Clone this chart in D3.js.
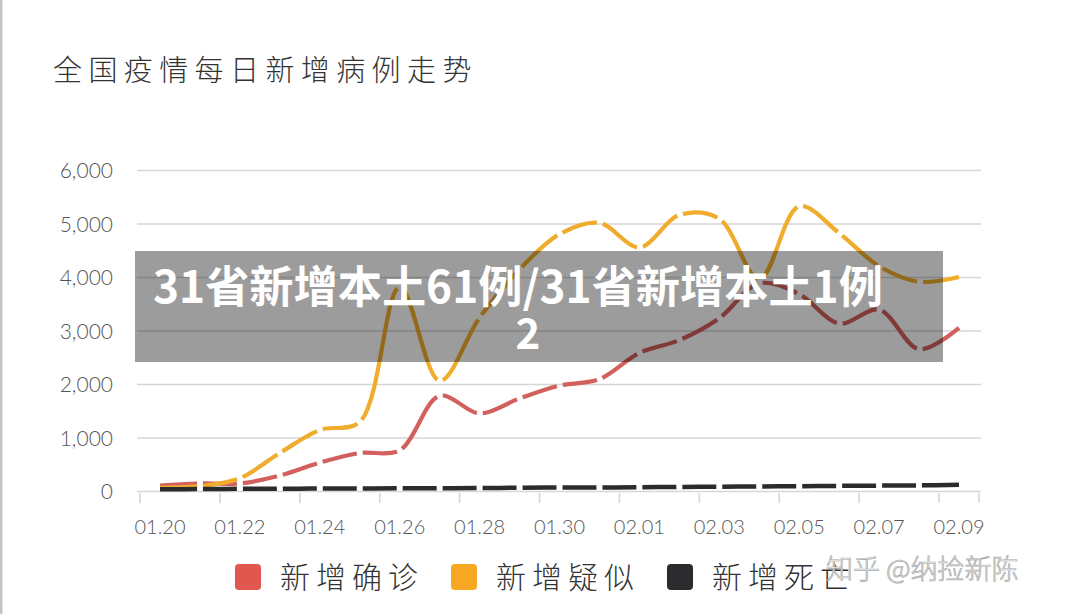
<!DOCTYPE html>
<html>
<head>
<meta charset="utf-8">
<script src="https://cdn.jsdelivr.net/npm/d3@7"></script>
<style>
  body { margin: 0; background: #fff; }
  svg { display: block; }
</style>
</head>
<body>
<div id="chart"></div>
<script>
// values (01.20 - 02.09)
const dates = ['01.20', '01.21', '01.22', '01.23', '01.24', '01.25', '01.26', '01.27', '01.28', '01.29', '01.30',
    '01.31', '02.01', '02.02', '02.03', '02.04', '02.05', '02.06', '02.07', '02.08', '02.09'];
const confirmed = [110, 150, 150, 300, 540, 720, 770, 1790, 1460, 1740, 1980, 2100, 2590, 2830, 3240, 3890, 3690, 3140, 3400, 2660, 3060];
const suspected = [70, 100, 250, 720, 1150, 1300, 3820, 2070, 3250, 4150, 4810, 5020, 4560, 5170, 5100, 3970, 5330, 4830, 4210, 3920, 4010];
const deaths = [40, 45, 50, 50, 55, 55, 60, 60, 65, 70, 75, 75, 80, 85, 90, 95, 100, 105, 110, 115, 125];
const yTicks = [0, 1000, 2000, 3000, 4000, 5000, 6000];
const seriesNames = ['新增确诊', '新增疑似', '新增死亡'];
const seriesColors = ['#d2605c', '#f0ac2c', '#2b2b2b'];
const legendColors = ['#e0574f', '#f7a823', '#2c2b2e'];

const width = 1080;
const height = 614;
const cjk = '"Noto Sans CJK SC", "Noto Sans", sans-serif';
const latin = 'Lato, "Open Sans", sans-serif';

let svg = d3.select('#chart').append('svg')
    .attr('width', width)
    .attr('height', height);

svg.append('rect').attr('width', width).attr('height', height).attr('fill', '#fff');
// thin grey edge on the left of the screenshot
svg.append('rect').attr('x', 0).attr('y', 0).attr('width', 2.5).attr('height', height).attr('fill', '#c4c4c4');

svg.append('text')
    .attr('x', 53)
    .attr('y', 81)
    .attr('font-family', cjk)
    .attr('font-weight', 300)
    .attr('font-size', 29)
    .attr('letter-spacing', 6.4)
    .attr('fill', '#333')
    .text('全国疫情每日新增病例走势');

let x = d3.scalePoint()
    .domain(dates)
    .range([160, 959]);
let step = x.step();

let y = d3.scaleLinear()
    .domain([0, 6000])
    .range([491.5, 170.5]);

// grid
svg.append('g')
    .selectAll('line')
    .data(yTicks)
    .join('line')
    .attr('x1', 137)
    .attr('x2', 981)
    .attr('y1', d => y(d))
    .attr('y2', d => y(d))
    .attr('stroke', '#d6d6d6')
    .attr('stroke-width', 1.6);

svg.append('g')
    .selectAll('text')
    .data(yTicks)
    .join('text')
    .attr('x', 113)
    .attr('y', d => y(d) + 7.5)
    .attr('text-anchor', 'end')
    .attr('font-family', latin)
    .attr('font-weight', 300)
    .attr('font-size', 21)
    .attr('fill', '#555')
    .text(d => d3.format(',')(d));

// x axis: labels every 2 days, ticks between the bands
let labelDates = dates.filter((d, i) => i % 2 == 0);
let tickPos = labelDates.map(d => x(d) - step / 2);
tickPos.push(x(dates[dates.length - 1]) + step / 2);

svg.append('g')
    .selectAll('line')
    .data(tickPos)
    .join('line')
    .attr('x1', d => d)
    .attr('x2', d => d)
    .attr('y1', 493)
    .attr('y2', 503)
    .attr('stroke', '#d6d6d6')
    .attr('stroke-width', 1.6);

svg.append('g')
    .selectAll('text')
    .data(labelDates)
    .join('text')
    .attr('x', d => x(d))
    .attr('y', 534)
    .attr('text-anchor', 'middle')
    .attr('font-family', latin)
    .attr('font-weight', 300)
    .attr('font-size', 20)
    .attr('fill', '#555')
    .text(d => d);

// lines
let line = d3.line()
    .x((d, i) => x(dates[i]))
    .y(d => y(d))
    .curve(d3.curveCatmullRom.alpha(0.5));

function lengthAtX(node, tx, total) {
    let lo = 0, hi = total;
    for (let k = 0; k < 40; k++) {
        let mid = (lo + hi) / 2;
        if (node.getPointAtLength(mid).x < tx) lo = mid;
        else hi = mid;
    }
    return (lo + hi) / 2;
}

// the original line breaks with a small white gap at every data point
function gapDash(path, gap) {
    let node = path.node();
    let total = node.getTotalLength();
    let stops = dates.slice(1, -1).map(d => lengthAtX(node, x(d), total));
    let dash = [];
    let prev = 0;
    stops.forEach(l => {
        dash.push(l - gap / 2 - prev, gap);
        prev = l + gap / 2;
    });
    dash.push(total - prev + 1, 2000);
    path.attr('stroke-dasharray', dash.join(' '));
}

let series = [confirmed, suspected, deaths];
let lines = svg.append('g');
series.forEach((s, i) => {
    let p = lines.append('path')
        .attr('d', line(s))
        .attr('fill', 'none')
        .attr('stroke', seriesColors[i])
        .attr('stroke-width', i == 2 ? 4.5 : 4.2)
        .attr('stroke-linecap', 'butt');
    gapDash(p, 6);
});

// legend
let legendX = [235, 451, 667];
let legend = svg.append('g');
seriesNames.forEach((name, i) => {
    legend.append('rect')
        .attr('x', legendX[i])
        .attr('y', 564)
        .attr('width', 26)
        .attr('height', 26)
        .attr('rx', 4)
        .attr('fill', legendColors[i]);
    legend.append('text')
        .attr('x', legendX[i] + 45)
        .attr('y', 588)
        .attr('font-family', cjk)
        .attr('font-weight', 300)
        .attr('font-size', 30)
        .attr('letter-spacing', 6)
        .attr('fill', '#333')
        .text(name);
});

// watermark
svg.append('text')
    .attr('x', 826)
    .attr('y', 579)
    .attr('font-family', cjk)
    .attr('font-weight', 300)
    .attr('font-size', 27)
    .attr('fill', '#f2f2f2')
    .attr('stroke', '#a8a8a8')
    .attr('stroke-width', 0.7)
    .text('知乎 @纳捡新陈');

// title banner laid over the chart
svg.append('rect')
    .attr('x', 135)
    .attr('y', 251)
    .attr('width', 808)
    .attr('height', 111)
    .attr('fill', 'rgba(0,0,0,0.39)');

let banner1 = svg.append('text')
    .attr('x', 153)
    .attr('y', 303)
    .attr('font-family', cjk)
    .attr('font-weight', 700)
    .attr('font-size', 44)
    .attr('fill', '#fff')
    .text('31省新增本土61例/31省新增本土1例');
let w = banner1.node().getComputedTextLength();
banner1.attr('font-size', 44 * 730 / w);

svg.append('text')
    .attr('x', 528)
    .attr('y', 349)
    .attr('text-anchor', 'middle')
    .attr('font-family', cjk)
    .attr('font-weight', 700)
    .attr('font-size', 42)
    .attr('fill', '#fff')
    .text('2');
</script>
</body>
</html>
